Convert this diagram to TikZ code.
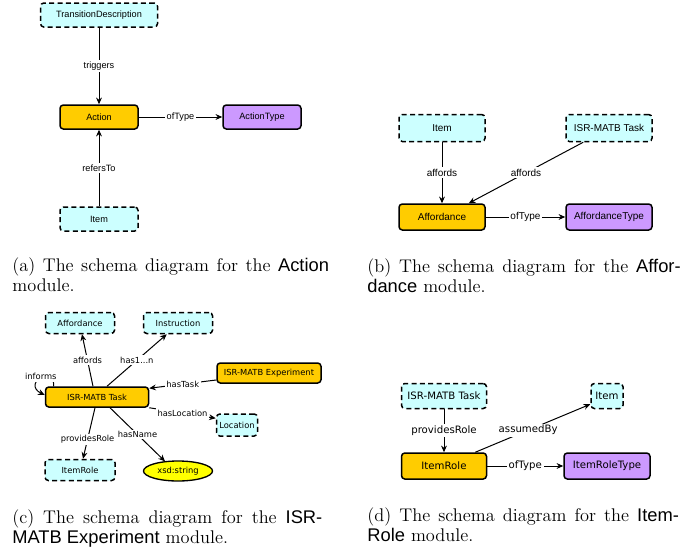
\documentclass[tikz,border=0pt]{standalone}
\usepackage{fontspec}
\newfontfamily\arialfont{Liberation Sans}
\newfontfamily\dejafont{DejaVu Sans}
\usetikzlibrary{arrows.meta,calc,shapes.geometric}
\definecolor{extcyan}{RGB}{204,255,255}
\definecolor{modorange}{RGB}{255,204,0}
\definecolor{typepurple}{RGB}{204,153,255}
\definecolor{datayellow}{RGB}{255,255,0}
\newcommand{\modname}[1]{{\arialfont #1}}
\newcommand{\subcap}[5]{%
  \node[anchor=north west,inner sep=0pt,align=left,
    font=\fontsize{11}{12}\selectfont] (#1) at #2
    {\makebox[#3][s]{#4}\\#5};
}

\begin{document}
\begin{tikzpicture}[x=0.6pt,y=-0.6pt,
    sz/.style 2 args={minimum width=#1*0.6pt,minimum height=#2*0.6pt},
    box/.style={rectangle,rounded corners=2pt,line width=0.9pt,inner sep=0pt},
    ext/.style={box,draw,dash pattern=on 3pt off 2pt,fill=extcyan},
    mod/.style={box,draw,fill=modorange},
    typ/.style={box,draw,fill=typepurple},
    lit/.style={ellipse,draw,line width=0.8pt,fill=datayellow,inner sep=0pt},
    rel/.style={-{Stealth[length=4pt,width=3.5pt]},line width=0.6pt},
    lab/.style={fill=white,inner sep=1pt}]
  \useasboundingbox (0,0) rectangle (684,550);

  % (a) Action
  \begin{scope}[font=\arialfont\fontsize{5.5}{6}\selectfont]
    \node[ext,sz={117}{24}] (tdA) at (99,15) {TransitionDescription};
    \node[mod,sz={78}{24}] (actA) at (99,117) {Action};
    \node[typ,sz={78}{24}] (typA) at (262,117) {ActionType};
    \node[ext,sz={78}{24}] (itemA) at (99,219) {Item};
    \draw[rel] (tdA) -- node[lab]{triggers} (actA);
    \draw[rel] (itemA) -- node[lab]{refersTo} (actA);
    \draw[rel] (actA) -- node[lab]{ofType} (typA);
  \end{scope}
  \subcap{capA}{(12,257)}{190pt}{(a) The schema diagram for the \modname{Action}}{module.}

  % (b) Affordance
  \begin{scope}[font=\arialfont\fontsize{6}{7}\selectfont]
    \node[ext,sz={86}{27}] (itemB) at (442,128) {Item};
    \node[ext,sz={86}{27}] (taskB) at (609,128) {ISR-MATB Task};
    \node[mod,sz={86}{26}] (affB) at (442,217) {Affordance};
    \node[typ,sz={86}{26}] (typB) at (609,217) {AffordanceType};
    \draw[rel] (itemB) -- node[lab]{affords} (affB);
    \draw[rel] ($(taskB.south west)+(18,0)$) -- node[lab]{affords}
      ($(affB.north east)+(-17,0)$);
    \draw[rel] (affB) -- node[lab]{ofType} (typB);
  \end{scope}
  \subcap{capB}{(367,258)}{188pt}{(b) The schema diagram for the \modname{Affor-}}{\modname{dance} module.}

  % (c) ISR-MATB Experiment
  \begin{scope}[font=\dejafont\fontsize{5}{6}\selectfont]
    \node[ext,sz={69}{21}] (affC) at (80,323) {Affordance};
    \node[ext,sz={69}{21}] (insC) at (178,323) {Instruction};
    \node[mod,sz={104}{20}] (expC) at (269,373) {ISR-MATB Experiment};
    \node[mod,sz={103}{20}] (taskC) at (97,397) {ISR-MATB Task};
    \node[ext,sz={41}{22}] (locC) at (237,425) {Location};
    \node[ext,sz={70}{21}] (roleC) at (80,470) {ItemRole};
    \node[lit,sz={69}{20}] (strC) at (178,471) {xsd:string};
    \draw[rel] ($(taskC.north)+(-4,0)$) -- node[lab]{affords} ($(affC.south)+(2,0)$);
    \draw[rel] ($(taskC.north)+(10,0)$) -- node[lab]{has1...n} ($(insC.south west)+(24,0)$);
    \draw[rel] ($(expC.west)+(0,7)$) -- node[lab]{hasTask} ($(taskC.north east)+(0,2)$);
    \draw[rel] (taskC.south east) -- node[lab]{hasLocation} ($(locC.north west)+(0,5)$);
    \draw[rel] ($(taskC.south)+(13,0)$) -- node[lab]{hasName} ($(strC.north)+(-13,1)$);
    \draw[rel] ($(taskC.south)+(-2,0)$) -- node[lab,pos=0.62]{providesRole} ($(roleC.north)+(3,0)$);
    \draw[rel] ($(taskC.north west)+(9,0)$) .. controls (54,360) and (22,384)
      .. node[lab]{informs} ($(taskC.west)+(0,-2)$);
  \end{scope}
  \subcap{capC}{(12,509)}{186pt}{(c) The schema diagram for the \modname{ISR-}}{\modname{MATB Experiment} module.}

  % (d) ItemRole
  \begin{scope}[font=\dejafont\fontsize{6.1}{7}\selectfont]
    \node[ext,sz={85}{25}] (taskD) at (444,396) {ISR-MATB Task};
    \node[ext,sz={32}{25}] (itemD) at (607,396) {Item};
    \node[mod,sz={85}{26}] (roleD) at (444,466) {ItemRole};
    \node[typ,sz={86}{26}] (typD) at (607,466) {ItemRoleType};
    \draw[rel] (taskD) -- node[lab]{providesRole} (roleD);
    \draw[rel] ($(roleD.north east)+(-12,0)$) -- node[lab,pos=0.46]{assumedBy}
      ($(itemD.south west)+(0,-5)$);
    \draw[rel] (roleD) -- node[lab]{ofType} (typD);
  \end{scope}
  \subcap{capD}{(367,507)}{187pt}{(d) The schema diagram for the \modname{Item-}}{\modname{Role} module.}
\end{tikzpicture}
\end{document}
